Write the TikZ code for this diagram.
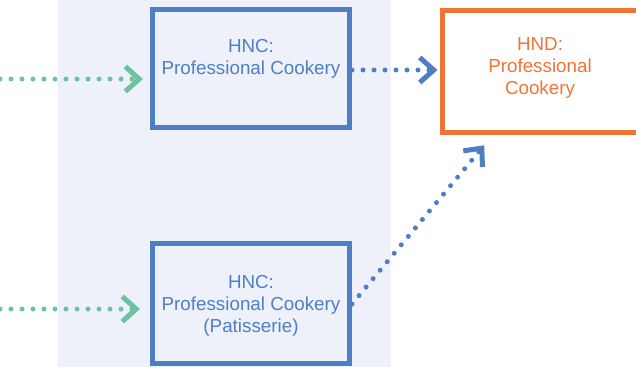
\documentclass[tikz,border=0pt]{standalone}
\usepackage{fontspec}
\setmainfont{Liberation Sans}
\usetikzlibrary{arrows.meta,calc}
\definecolor{cblue}{HTML}{4E7FC5}
\definecolor{cgreen}{HTML}{6CC49C}
\definecolor{corange}{HTML}{EE7533}
\definecolor{cpanel}{HTML}{EEF1FA}
\tikzset{
  boxbase/.style={draw, rectangle, line width=5pt, inner sep=0pt, fill=none},
  hncbox/.style={boxbase, draw=cblue, minimum width=197pt, minimum height=118pt},
  hndbox/.style={boxbase, draw=corange, minimum width=196pt, minimum height=122pt},
  btext/.style={inner sep=0pt, align=center, font=\fontsize{18.8}{22}\selectfont},
  dotline/.style={line width=5pt, line cap=round, dash pattern=on 0pt off 11pt,
    -{Straight Barb[length=14pt,width=25pt]}},
  greenarrow/.style={dotline, draw=cgreen},
  bluearrow/.style={dotline, draw=cblue}
}
\begin{document}
\begin{tikzpicture}[x=1pt,y=-1pt]
\useasboundingbox (0,0) rectangle (636,367);
\fill[cpanel] (58,0) rectangle (391,367);
\node[hncbox] (hnc1) at (251,68.4) {};
\node[hncbox, minimum height=120pt] (hnc2) at (251,303) {};
\node[hndbox] (hnd) at (540,71) {};
\node[btext, text=cblue] (t1) at (251,59) {HNC:\\Professional Cookery};
\node[btext, text=cblue] (t2) at (251,305.5) {HNC:\\Professional Cookery\\(Patisserie)};
\node[btext, text=corange] (t3) at (540,68) {HND:\\Professional\\Cookery};
\coordinate (g1) at (0,79);
\coordinate (g2) at (0,309);
\coordinate (b1) at ($(hnc1.east)+(0,1.6)$);
\coordinate (b2) at ($(hnc2.east)+(0,1)$);
\coordinate (b2end) at ($(hnd.south west)!0.267!(hnd.south east)$);
\draw[greenarrow, shorten >=7pt] (g1) -- (g1 -| hnc1.west);
\draw[greenarrow, shorten >=10pt] (g2) -- (g2 -| hnc2.west);
\draw[bluearrow, shorten >=2pt] (b1) -- (b1 -| hnd.west);
\draw[bluearrow, shorten >=14pt] (b2) -- (b2end);
\end{tikzpicture}
\end{document}
